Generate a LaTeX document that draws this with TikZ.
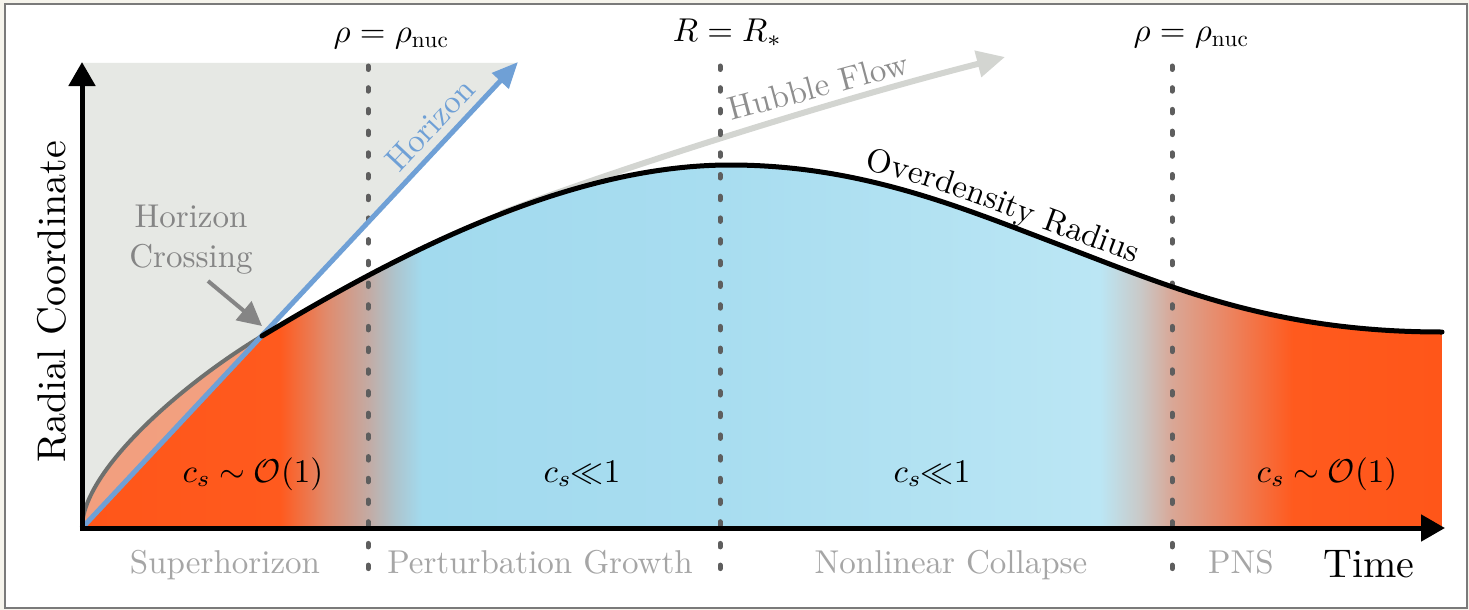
\RequirePackage{fix-cm}
\documentclass[tikz,border=0pt]{standalone}
\usepackage{fontspec}
\setmainfont{lmroman10-regular}[Extension=.otf, ItalicFont=lmroman10-italic, BoldFont=lmroman10-bold]
\DeclareFontShape{OML}{cmm}{m}{it}{<-20>cmmi5<20-30>cmmi7<30->cmmi10}{\skewchar\font'177}
\DeclareFontShape{OMS}{cmsy}{m}{n}{<-20>cmsy5<20-30>cmsy7<30->cmsy10}{\skewchar\font'60}
\DeclareFontShape{OT1}{cmr}{m}{n}{<-20>cmr5<20-30>cmr7<30->cmr10}{}
\usetikzlibrary{arrows.meta,decorations.text}
\definecolor{cOr}{HTML}{FF5619}
\definecolor{cOrB}{HTML}{FF5A1E}
\definecolor{cTa}{HTML}{E08B6D}
\definecolor{cTb}{HTML}{C2ACA6}
\definecolor{cTc}{HTML}{ADC4CD}
\definecolor{cBa}{HTML}{A2DAEE}
\definecolor{cBb}{HTML}{A8DDF0}
\definecolor{cBc}{HTML}{BBE6F4}
\definecolor{cTd}{HTML}{C9C9C8}
\definecolor{cTe}{HTML}{D9A796}
\definecolor{cTf}{HTML}{EB8562}
\definecolor{grayreg}{HTML}{E6E8E4}
\definecolor{hzblue}{HTML}{6FA0D6}
\definecolor{hubgray}{HTML}{D3D5D1}
\definecolor{hubtext}{HTML}{8E8E8E}
\definecolor{dashgray}{HTML}{5E5E5E}
\definecolor{labgray}{HTML}{A6A6A6}
\definecolor{crossgray}{HTML}{858585}
\definecolor{curvegray}{HTML}{6E706E}
\definecolor{framecol}{HTML}{7A7A7A}
\definecolor{outerbg}{HTML}{F6F4EC}
\pgfdeclarehorizontalshading{regime}{100bp}{color(0bp)=(cOr); color(25bp)=(cOr); color(32.28bp)=(cOrB); color(34.01bp)=(cTa); color(35.59bp)=(cTb); color(36.51bp)=(cTc); color(37.5bp)=(cBa); color(48.46bp)=(cBb); color(62.43bp)=(cBc); color(63.9bp)=(cTd); color(65.07bp)=(cTe); color(67.1bp)=(cTf); color(69.52bp)=(cOrB); color(75bp)=(cOr); color(100bp)=(cOr)}
\newcommand\fsz{\fontsize{33}{40}\selectfont}
\newcommand\fbg{\fontsize{40}{48}\selectfont}
\tikzset{
  lab/.style={font=\fsz, inner sep=0pt},
  graylab/.style={lab, text=labgray, anchor=base},
  mathlab/.style={lab, anchor=base},
  axisline/.style={line width=5pt, black, -{Triangle[length=24pt,width=26pt]}},
  horizonarrow/.style={line width=5pt, hzblue, -{Triangle[length=26pt,width=22pt]}},
  hubblearrow/.style={line width=6pt, hubgray, -{Triangle[length=28pt,width=26pt]}},
  dashv/.style={line width=5pt, dashgray, line cap=round, dash pattern=on 3.5pt off 18.2pt},
  graycurvestyle/.style={line width=4pt, curvegray, line cap=round},
  blackcurvestyle/.style={line width=5pt, black, line cap=round},
  crossarrow/.style={line width=4pt, crossgray, -{Triangle[length=24pt,width=24pt]}},
}
\begin{document}
\begin{tikzpicture}[x=1pt,y=-1pt]
\useasboundingbox (0,0) rectangle (1469,610);
\fill[outerbg] (0,0) rectangle (1469,610);
\draw[framecol, line width=1.5pt, fill=white] (5,4) rectangle (1467,608);
\coordinate (O) at (82,528);
\coordinate (ybot) at (82,530.5);
\coordinate (ytip) at (82,62);
\coordinate (xbot) at (79.5,528);
\coordinate (xtip) at (1445,528);
\coordinate (htip) at (518,62);
\coordinate (cross) at (262,336);
\coordinate (peak) at (730,165);
\coordinate (infl) at (1060,245);
\coordinate (rend) at (1442,332);
\coordinate (rbot) at (1442,528);
\coordinate (hubA) at (501,213.5);
\coordinate (hubtip) at (1005,57);
\coordinate (hcA) at (208,281);
\coordinate (hcB) at (262,326);
\coordinate (d1t) at (368,66);
\coordinate (d1b) at (368,575);
\coordinate (d2t) at (720,66);
\coordinate (d2b) at (720,575);
\coordinate (d3t) at (1172,66);
\coordinate (d3b) at (1172,575);
% superhorizon region
\fill[grayreg] (O) -- (82,63) -- (517,63) -- cycle;
% regime colouring under the overdensity radius
\begin{scope}
\clip (O) .. controls (82,470) and (185,382) .. (cross) .. controls (382,264) and (560,165) .. (peak) .. controls (860,165) and (960,207) .. (infl) .. controls (1170,286.8) and (1272,332) .. (rend) -- (rbot) -- cycle;
\shade[shading=regime] (82,40) rectangle (1442,530);
\end{scope}
% part of the overdensity still outside the horizon
\fill[grayreg, fill opacity=0.5] (O) .. controls (82,470) and (185,382) .. (cross) -- cycle;
% Hubble flow
\draw[hubblearrow] (hubA) .. controls (601,174.7) and (820,104) .. (hubtip);
% dashed markers
\draw[dashv] (d1t) -- (d1b);
\draw[dashv] (d2t) -- (d2b);
\draw[dashv] (d3t) -- (d3b);
% curves
\draw[graycurvestyle] (O) .. controls (82,470) and (185,382) .. (cross);
\draw[horizonarrow] (O) -- (htip);
\draw[blackcurvestyle] (cross) .. controls (382,264) and (560,165) .. (peak) .. controls (860,165) and (960,207) .. (infl) .. controls (1170,286.8) and (1272,332) .. (rend);
% axes
\draw[axisline] (ybot) -- (ytip);
\draw[axisline] (xbot) -- (xtip);
% horizon crossing
\node[lab, text=crossgray, align=center] (hc) at (191,240) {Horizon\\Crossing};
\draw[crossarrow] (hcA) -- (hcB);
% labels
\node[mathlab] (rhoa) at (391,43) {$\rho = \rho_{\mathrm{nuc}}$};
\node[mathlab] (rstar) at (727,42) {$R = R_*$};
\node[mathlab] (rhob) at (1191,42) {$\rho = \rho_{\mathrm{nuc}}$};
\node[lab, text=hzblue, rotate=46.9] (hz) at (430,125) {Horizon};
\node[lab, text=hubtext, rotate=15, anchor=base] (hf) at (821,97) {Hubble Flow};
\path[decorate, decoration={text along path, text={|\fsz|Overdensity Radius}, text align={left indent=58pt}, raise=9pt}] (805,170) .. controls (880,176) and (940,200) .. (1010,226) .. controls (1080,252) and (1130,270) .. (1180,290);
\node[font=\fbg, rotate=90, inner sep=0pt] (rc) at (52,302) {Radial Coordinate};
\node[font=\fbg, anchor=base, inner sep=0pt] (tm) at (1369,577) {Time};
\node[graylab] (sh) at (225,573) {Superhorizon};
\node[graylab] (pg) at (540,573) {Perturbation Growth};
\node[graylab] (nc) at (951,573) {Nonlinear Collapse};
\node[graylab] (pns) at (1241,573) {PNS};
\node[mathlab] (csa) at (253,482) {$c_s \sim \mathcal{O}(1)$};
\node[mathlab] (csb) at (582,482) {$c_s{\ll}1$};
\node[mathlab] (csc) at (932,482) {$c_s{\ll}1$};
\node[mathlab] (csd) at (1327,482) {$c_s \sim \mathcal{O}(1)$};
\end{tikzpicture}
\end{document}
